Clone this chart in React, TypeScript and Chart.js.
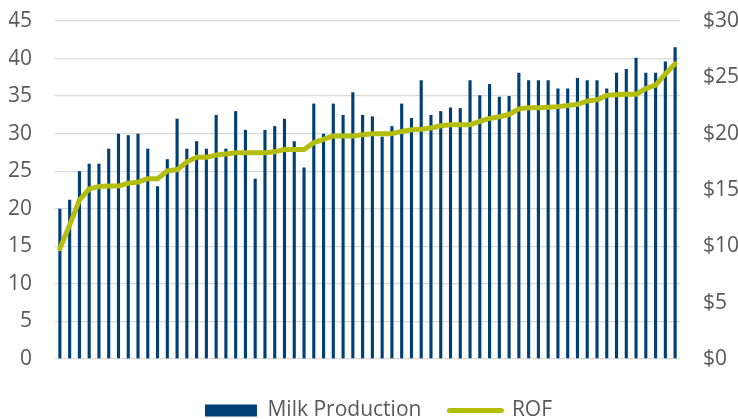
import React, { useEffect, useRef } from "react";
import { Chart, registerables } from "chart.js";

Chart.register(...registerables);

const milkProduction = [
  20.0, 21.2, 25.0, 26.0, 26.0, 28.0, 30.0, 29.8, 30.0, 28.0,
  23.0, 26.6, 32.0, 28.0, 29.0, 28.0, 32.5, 28.0, 33.0, 30.5,
  24.0, 30.5, 31.0, 32.0, 29.0, 25.5, 34.0, 30.0, 34.0, 32.5,
  35.5, 32.5, 32.3, 29.6, 31.0, 34.0, 32.1, 37.1, 32.5, 33.0,
  33.5, 33.4, 37.1, 35.1, 36.6, 34.9, 35.0, 38.1, 37.1, 37.1,
  37.1, 36.0, 36.0, 37.4, 37.1, 37.1, 36.0, 38.1, 38.6, 40.1,
  38.1, 38.1, 39.6, 41.5,
];

const rof = [
  9.8, 11.9, 14.1, 15.1, 15.3, 15.35, 15.35, 15.6, 15.7, 16.0,
  16.0, 16.7, 16.8, 17.5, 17.9, 17.9, 18.1, 18.2, 18.3, 18.3,
  18.3, 18.3, 18.4, 18.6, 18.6, 18.6, 19.2, 19.5, 19.8, 19.8,
  19.8, 19.9, 20.0, 20.0, 20.0, 20.2, 20.35, 20.4, 20.5, 20.7,
  20.8, 20.8, 20.8, 21.1, 21.35, 21.5, 21.7, 22.2, 22.3, 22.3,
  22.35, 22.4, 22.5, 22.6, 22.9, 23.0, 23.4, 23.45, 23.5, 23.5,
  24.0, 24.3, 25.3, 26.2,
];

const farms = milkProduction.map((_, i) => String(i + 1));

const seriesNames = ["Milk Production", "ROF"];

const BLUE = "#003f75";
const OLIVE = "#b5bd0f";
const TEXT = "#595959";
const FONT = "'Open Sans', sans-serif";
const FSIZE = 21;

export default function App() {
  const canvasRef = useRef<HTMLCanvasElement | null>(null);

  useEffect(() => {
    if (!canvasRef.current) return;
    const chart = new Chart(canvasRef.current, {
      type: "bar",
      data: {
        labels: farms,
        datasets: [
          {
            type: "bar",
            label: seriesNames[0],
            data: milkProduction,
            backgroundColor: BLUE,
            borderWidth: 0,
            barPercentage: 0.32,
            categoryPercentage: 1,
            yAxisID: "y",
            order: 1,
          },
          {
            type: "line",
            label: seriesNames[1],
            data: rof,
            borderColor: OLIVE,
            backgroundColor: OLIVE,
            borderWidth: 5,
            pointRadius: 0,
            tension: 0,
            borderJoinStyle: "round",
            borderCapStyle: "round",
            yAxisID: "y1",
            order: 0,
          },
        ],
      },
      options: {
        animation: false,
        responsive: true,
        maintainAspectRatio: false,
        layout: { padding: { top: 21, bottom: -12, left: 9, right: -10 } },
        plugins: {
          tooltip: { enabled: false },
          legend: {
            position: "bottom",
            labels: {
              font: { family: FONT, size: FSIZE },
              color: TEXT,
              usePointStyle: true,
              pointStyleWidth: 52,
              boxHeight: 12,
              padding: 28,
              generateLabels: () => [
                {
                  text: seriesNames[0],
                  fillStyle: BLUE,
                  strokeStyle: BLUE,
                  lineWidth: 0,
                  pointStyle: "rect",
                  datasetIndex: 0,
                  fontColor: TEXT,
                },
                {
                  text: seriesNames[1],
                  fillStyle: OLIVE,
                  strokeStyle: OLIVE,
                  lineWidth: 5,
                  lineCap: "round",
                  pointStyle: "line",
                  datasetIndex: 1,
                  fontColor: TEXT,
                },
              ],
            },
          },
        },
        scales: {
          x: {
            display: true,
            offset: true,
            ticks: { display: false },
            grid: { display: false, drawTicks: false },
            border: { display: false },
            afterFit: (scale: any) => {
              scale.height = 13;
            },
          },
          y: {
            position: "left",
            min: 0,
            max: 45,
            ticks: {
              stepSize: 5,
              padding: 3,
              color: TEXT,
              font: { family: FONT, size: FSIZE },
            },
            grid: {
              color: "#d9d9d9",
              lineWidth: 1.3,
              drawTicks: true,
              tickLength: 20,
              tickColor: "rgba(0,0,0,0)",
            },
            border: { display: false },
            afterFit: (scale: any) => {
              scale.width = 46;
            },
          },
          y1: {
            position: "right",
            min: 0,
            max: 30,
            ticks: {
              stepSize: 5,
              padding: 3,
              color: TEXT,
              font: { family: FONT, size: FSIZE },
              callback: (v: any) => "$" + v,
            },
            grid: {
              display: true,
              drawOnChartArea: false,
              drawTicks: true,
              tickLength: 20,
              tickColor: "rgba(0,0,0,0)",
            },
            border: { display: false },
            afterFit: (scale: any) => {
              scale.width = 68;
            },
          },
        },
      },
    });
    return () => chart.destroy();
  }, []);

  return (
    <div
      style={{
        position: "absolute",
        left: 0,
        top: 0,
        width: 738,
        height: 419,
        background: "#fff",
      }}
    >
      <canvas ref={canvasRef} />
    </div>
  );
}
